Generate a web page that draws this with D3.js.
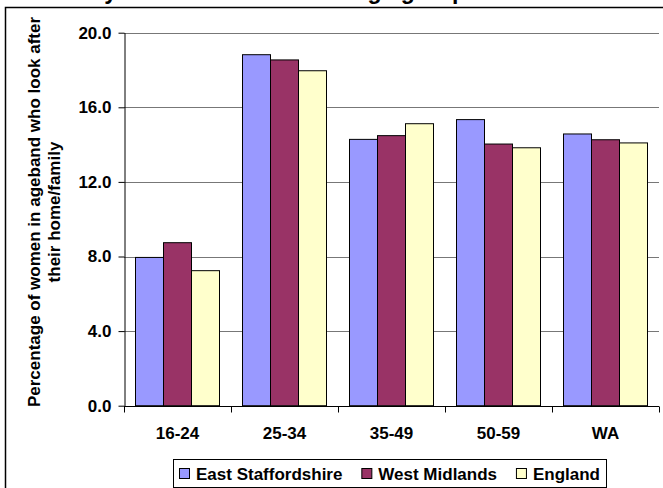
<!DOCTYPE html>
<html>
<head>
<meta charset="utf-8">
<script src="https://cdn.jsdelivr.net/npm/d3@7"></script>
<style>
  html, body { margin: 0; padding: 0; background: #fff; }
  svg { display: block; font-family: Arial, "Liberation Sans", sans-serif; }
</style>
</head>
<body>
<svg id="chart" width="663" height="488"></svg>
<script>
const title = "Women who look after their home/family in East Staffordshire age group";
const categories = ["16-24", "25-34", "35-49", "50-59", "WA"];
const seriesNames = ["East Staffordshire", "West Midlands", "England"];
const eastStaffordshire = [7.95, 18.82, 14.28, 15.34, 14.57];
const westMidlands = [8.74, 18.54, 14.48, 14.03, 14.26];
const england = [7.24, 17.96, 15.12, 13.83, 14.09];
const yTicks = [0, 4, 8, 12, 16, 20];
const yLabelLines = ["Percentage of women in ageband who look after", "their home/family"];
const colors = ["#9999FF", "#993366", "#FFFFCC"];

const seriesValues = [eastStaffordshire, westMidlands, england];
const svg = d3.select("#chart");
const FS = 17;

// outer chart frame (extends past the window on the right and bottom)
svg.append("rect").attr("x", 5.5).attr("y", 7.5).attr("width", 720).attr("height", 520)
  .attr("fill", "#fff").attr("stroke", "#000").attr("stroke-width", 1.5);

// title (only its lowest edge shows above the frame, as in the reference)
svg.append("text").attr("x", 466).attr("y", -1).attr("text-anchor", "end")
  .attr("font-size", 23).attr("font-weight", "bold").text(title);

const plot = { left: 124, right: 659, top: 32.7, bottom: 405.7 };
const x0 = d3.scaleBand().domain(categories).range([plot.left, plot.right]).paddingInner(0).paddingOuter(0);
const x1 = d3.scaleBand().domain(seriesNames).range([11.5, x0.bandwidth() - 11.5]).padding(0);
const y = d3.scaleLinear().domain([0, 20]).range([plot.bottom, plot.top]);

// gridlines
svg.append("g").selectAll("line").data(yTicks.filter(d => d > 0)).join("line")
  .attr("x1", plot.left).attr("x2", plot.right)
  .attr("y1", d => Math.round(y(d)) + 0.5).attr("y2", d => Math.round(y(d)) + 0.5)
  .attr("stroke", "#777").attr("stroke-width", 1);

// bars
const groups = svg.append("g").selectAll("g").data(categories).join("g")
  .attr("transform", c => `translate(${x0(c)},0)`);
groups.selectAll("rect").data((c, i) => seriesNames.map((s, j) => ({ s, j, v: seriesValues[j][i] })))
  .join("rect")
  .attr("x", d => x1(d.s))
  .attr("y", d => y(d.v))
  .attr("width", x1.bandwidth())
  .attr("height", d => y(0) - y(d.v))
  .attr("fill", d => colors[d.j])
  .attr("stroke", "#000").attr("stroke-width", 1);

// y axis
const yAxis = svg.append("g").attr("transform", `translate(${plot.left + 0.5},0)`)
  .call(d3.axisLeft(y).tickValues(yTicks).tickFormat(d3.format(".1f")).tickSize(6).tickSizeOuter(0).tickPadding(7));
yAxis.select(".domain").attr("stroke", "#000");
yAxis.selectAll(".tick line").attr("stroke", "#000");
yAxis.selectAll("text").attr("font-size", FS).attr("font-weight", "bold").attr("fill", "#000")
  .attr("font-family", "Arial, 'Liberation Sans', sans-serif");

// x axis
const xAxis = svg.append("g").attr("transform", `translate(0,${Math.round(plot.bottom) + 0.5})`);
xAxis.append("line").attr("x1", plot.left).attr("x2", plot.right).attr("stroke", "#000");
const boundaries = categories.map(c => x0(c)).concat([x0(categories[categories.length - 1]) + x0.bandwidth()]);
xAxis.selectAll("line.tk").data(boundaries).join("line").attr("class", "tk")
  .attr("x1", d => Math.round(d) + 0.5).attr("x2", d => Math.round(d) + 0.5)
  .attr("y1", 0).attr("y2", 6).attr("stroke", "#000");
xAxis.selectAll("text").data(categories).join("text")
  .attr("x", c => x0(c) + x0.bandwidth() / 2).attr("y", 32)
  .attr("text-anchor", "middle").attr("font-size", FS).attr("font-weight", "bold").text(c => c);

// y axis label
const yl = svg.append("text").attr("transform", "translate(40,212) rotate(-90)")
  .attr("text-anchor", "middle").attr("font-size", FS).attr("font-weight", "bold");
yl.selectAll("tspan").data(yLabelLines).join("tspan")
  .attr("x", 0).attr("dy", (d, i) => i === 0 ? 0 : 20).text(d => d);

// legend
const legend = { x: 173, y: 459.5, w: 433, h: 28 };
svg.append("rect").attr("x", legend.x + 0.5).attr("y", legend.y).attr("width", legend.w).attr("height", legend.h)
  .attr("fill", "#fff").attr("stroke", "#000").attr("stroke-width", 1);
const lg = svg.append("g");
const items = seriesNames.map((s, j) => {
  const sw = lg.append("rect").attr("y", legend.y + 9).attr("width", 10).attr("height", 10)
    .attr("fill", colors[j]).attr("stroke", "#000").attr("stroke-width", 1);
  const t = lg.append("text").attr("y", legend.y + 20)
    .attr("font-size", FS).attr("font-weight", "bold").text(s);
  return { sw, t, w: t.node().getComputedTextLength() };
});
const startX = legend.x + 6, endX = legend.x + legend.w - 6, swGap = 7;
const natural = items.reduce((a, it) => a + 10 + swGap + it.w, 0);
const gap = Math.max(4, (endX - startX - natural) / (items.length - 1));
let cx = startX;
items.forEach(it => {
  it.sw.attr("x", cx + 0.5);
  it.t.attr("x", cx + 10 + swGap);
  cx += 10 + swGap + it.w + gap;
});
</script>
</body>
</html>
